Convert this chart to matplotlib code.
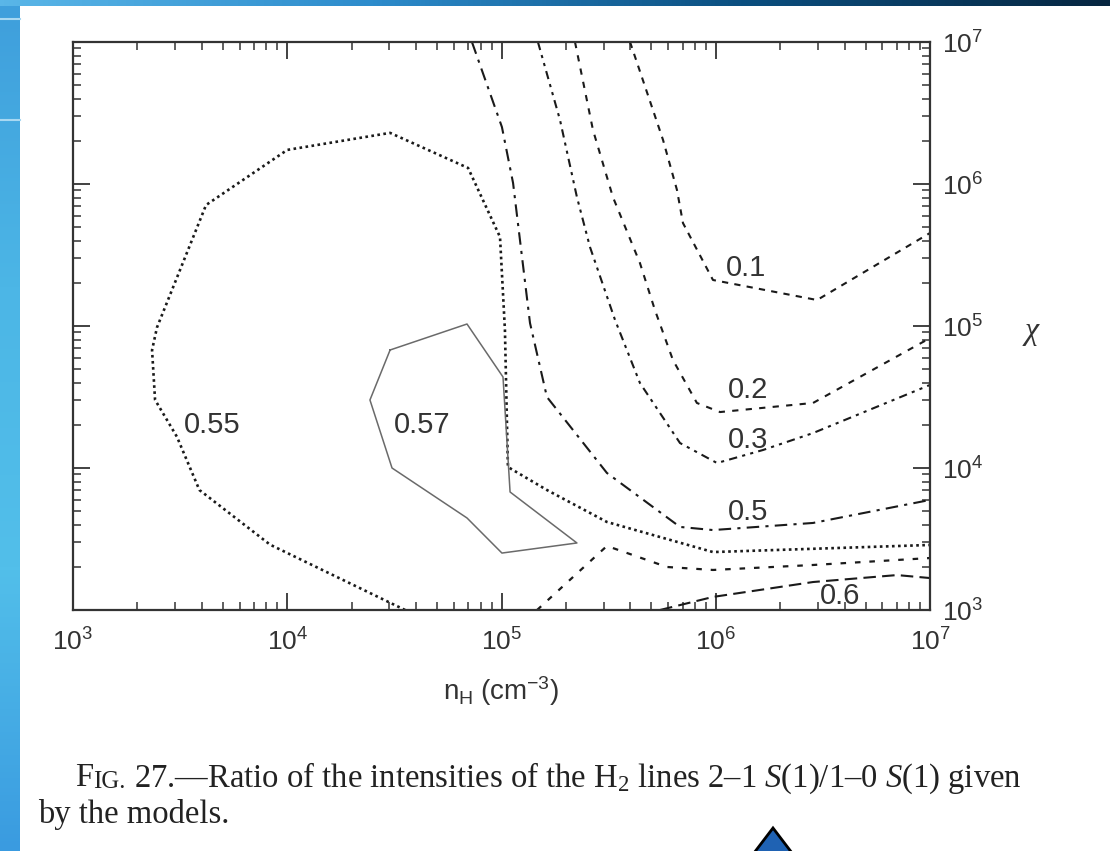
import numpy as np
import matplotlib
matplotlib.use("Agg")
import matplotlib.pyplot as plt
from matplotlib.colors import LinearSegmentedColormap
from matplotlib.patches import Polygon

# contour paths, as (log10 n_H, log10 chi)
c055_lognh = [4.55, 3.92, 3.59, 3.485, 3.383, 3.369, 3.392, 3.621, 4.0, 4.48,
              4.844, 4.993, 5.016, 5.03, 5.212, 5.492, 5.987, 7.0]
c055_logchi = [3.0, 3.46, 3.845, 4.22, 4.48, 4.83, 4.99, 5.852, 6.24, 6.36,
               6.113, 5.627, 4.972, 4.007, 3.845, 3.62, 3.408, 3.458]

c057_lognh = [4.48, 4.839, 5.007, 5.04, 5.352, 5.002, 4.839, 4.489, 4.386, 4.48]
c057_logchi = [4.831, 5.014, 4.641, 3.831, 3.472, 3.401, 3.648, 4.0, 4.479, 4.831]

c05_lognh = [4.862, 5.002, 5.054, 5.133, 5.212, 5.492, 5.833, 5.987, 6.454, 7.0]
c05_logchi = [7.0, 6.401, 6.007, 5.021, 4.5, 3.965, 3.585, 3.563, 3.613, 3.775]

c03_lognh = [5.17, 5.273, 5.352, 5.413, 5.53, 5.646, 5.833, 6.006, 6.221, 6.454, 7.0]
c03_logchi = [7.0, 6.451, 5.908, 5.556, 5.042, 4.599, 4.176, 4.035, 4.127, 4.246, 4.585]

c02_lognh = [5.343, 5.427, 5.52, 5.646, 5.716, 5.8, 5.912, 6.02, 6.454, 7.0]
c02_logchi = [7.0, 6.38, 5.908, 5.444, 5.113, 4.761, 4.458, 4.394, 4.458, 4.915]

c01_lognh = [5.6, 5.754, 5.819, 5.847, 5.987, 6.473, 7.0]
c01_logchi = [7.0, 6.31, 5.958, 5.725, 5.324, 5.183, 5.655]

cmid_lognh = [5.166, 5.492, 5.772, 5.987, 6.454, 7.0]
cmid_logchi = [3.0, 3.451, 3.303, 3.282, 3.317, 3.366]

c06_lognh = [5.74, 5.987, 6.454, 6.846, 7.0]
c06_logchi = [3.0, 3.092, 3.197, 3.246, 3.225]

label_text = ["0.55", "0.57", "0.1", "0.2", "0.3", "0.5", "0.6"]
label_lognh = [3.65, 4.63, 6.14, 6.15, 6.15, 6.15, 6.58]
label_logchi = [4.30, 4.30, 5.41, 4.55, 4.20, 3.69, 3.10]

plt.rcParams["font.family"] = ["Liberation Sans", "DejaVu Sans"]
plt.rcParams["mathtext.fontset"] = "custom"
plt.rcParams["mathtext.rm"] = "Liberation Serif"
plt.rcParams["mathtext.it"] = "Liberation Serif:italic"

W, H = 1110, 851
fig = plt.figure(figsize=(W / 100, H / 100), dpi=100)
fig.patch.set_facecolor("white")

# slide decoration: top band and left strip
band = LinearSegmentedColormap.from_list("band", ["#5ab6e8", "#2d8ccc", "#0b4f80", "#062640"])
bax = fig.add_axes([0, 1 - 6 / H, 1, 6 / H])
bax.imshow(np.linspace(0, 1, 256)[None, :], aspect="auto", cmap=band)
bax.axis("off")
strip = LinearSegmentedColormap.from_list("strip", ["#3f9fdc", "#4cb6e6", "#52bfea", "#3a9be0"])
sax = fig.add_axes([0, 0, 20 / W, 1 - 6 / H])
sax.imshow(np.linspace(0, 1, 256)[:, None], aspect="auto", cmap=strip)
sax.axis("off")
for yy in (19, 120):
    fig.add_artist(plt.Line2D([0, 20 / W], [1 - yy / H] * 2, color="#a8d8f2", lw=1.5))

ax = fig.add_axes([73 / W, 1 - 610 / H, 857 / W, 568 / H])
ax.set_xscale("log")
ax.set_yscale("log")
ax.set_xlim(1e3, 1e7)
ax.set_ylim(1e3, 1e7)

k = "#1a1a1a"
ax.plot(10 ** np.array(c055_lognh), 10 ** np.array(c055_logchi), color=k, lw=1.9, dashes=(1, 1.3))
ax.plot(10 ** np.array(c057_lognh), 10 ** np.array(c057_logchi), color="#6a6a6a", lw=1.1)
ax.plot(10 ** np.array(c05_lognh), 10 ** np.array(c05_logchi), color=k, lw=1.5, dashes=(6, 3, 1.5, 3))
ax.plot(10 ** np.array(c03_lognh), 10 ** np.array(c03_logchi), color=k, lw=1.5,
        dashes=(4, 2.5, 1.5, 2.5, 1.5, 2.5))
ax.plot(10 ** np.array(c02_lognh), 10 ** np.array(c02_logchi), color=k, lw=1.5, dashes=(3, 3.5))
ax.plot(10 ** np.array(c01_lognh), 10 ** np.array(c01_logchi), color=k, lw=1.5, dashes=(3, 3))
ax.plot(10 ** np.array(cmid_lognh), 10 ** np.array(cmid_logchi), color=k, lw=1.6, dashes=(2.5, 4))
ax.plot(10 ** np.array(c06_lognh), 10 ** np.array(c06_logchi), color=k, lw=1.5, dashes=(6, 3))

for t, lx, ly in zip(label_text, label_lognh, label_logchi):
    ax.text(10 ** lx, 10 ** ly, t, ha="center", va="center", fontsize=21, color="#333333")

for s in ax.spines.values():
    s.set_linewidth(1.6)
    s.set_color("#333333")
ax.tick_params(which="both", direction="in", top=True, right=True, left=True, bottom=True,
               labelleft=False, labelright=True, colors="#333333", labelsize=19)
ax.tick_params(which="major", length=12, width=1.3)
ax.tick_params(axis="x", which="major", pad=13)
ax.tick_params(axis="y", which="major", pad=9)
ax.tick_params(which="minor", length=6, width=1.1)
ax.set_xlabel(r"$\mathregular{n_H\ (cm^{-3})}$", fontsize=20, color="#333333", labelpad=14)
ax.text(1.119, 0.488, r"$\chi$", transform=ax.transAxes, fontsize=23, color="#333333",
        ha="center", va="center")

# caption, with small caps "FIG."
cs = 23.5
ckw = dict(family="Liberation Serif", color="#222222", annotation_clip=False, va="baseline")
t1 = fig.text(75 / W, 1 - 786 / H, "F", fontsize=cs, va="baseline", family="Liberation Serif", color="#222222")
t2 = ax.annotate("IG.", xy=(1, 0), xycoords=t1, xytext=(0, 5.5), textcoords="offset pixels",
                 fontsize=cs * 0.76, **ckw)
ax.annotate(r" 27.—Ratio of the intensities of the H$\mathregular{_2}$ lines 2–1 $S$(1)/1–0 $S$(1) given",
            xy=(1, 0), xycoords=t1, xytext=(t2.get_window_extent(fig.canvas.get_renderer()).width, 6.5),
            textcoords="offset pixels", fontsize=cs, **ckw)
fig.text(38 / W, 1 - 823 / H, "by the models.", fontsize=cs, va="baseline",
         family="Liberation Serif", color="#222222")

tri = Polygon([[773 / W, 1 - 828 / H], [749 / W, -0.01], [797 / W, -0.01]], closed=True,
              transform=fig.transFigure, facecolor="#1f62b3", edgecolor="black", lw=2)
fig.patches.append(tri)

fig.savefig("out.png", dpi=100)
